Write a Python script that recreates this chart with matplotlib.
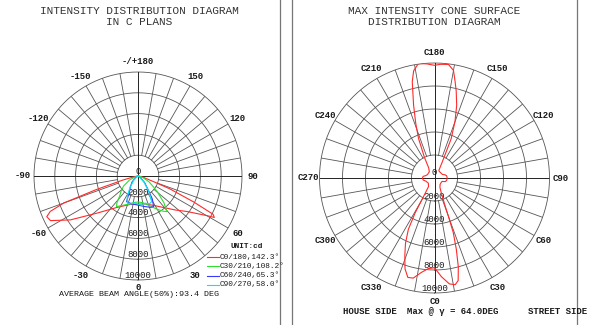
import numpy as np
import matplotlib
matplotlib.use('Agg')
import matplotlib.pyplot as plt
from matplotlib.lines import Line2D

plt.rcParams['font.family'] = ['Liberation Mono', 'DejaVu Sans Mono']

# ---- C-plane intensity curves (gamma in deg, negative = opposite half plane; cd)
c0_gamma = [-90, -80, -75, -72, -70, -68, -66, -63, -57, -48, -34, -16, 0, 16, 30, 39,
            48, 54, 60, 61.5, 63, 65, 68, 70, 75, 80, 90]
c0_cd = [0, 300, 1500, 4200, 7600, 9100, 9600, 9450, 7750, 5350, 3650, 2850, 2700, 2800,
         3300, 3900, 4900, 5800, 7600, 8350, 8100, 5900, 3300, 1600, 600, 200, 0]

c30_gamma = [-90, -75, -65, -55, -48, -43, -38, -35, -30, -20, -10, 0, 10, 20, 30, 36,
             39, 44, 50, 55, 62, 70, 80, 90]
c30_cd = [0, 200, 900, 1700, 2200, 2550, 3300, 3600, 3300, 2900, 2600, 2500, 2600, 3000,
          3700, 4200, 4400, 3600, 2500, 1800, 1200, 600, 200, 0]

c60_gamma = [-90, -60, -45, -35, -30, -24, -12, 0, 12, 22, 27, 32, 36, 45, 55, 90]
c60_cd = [0, 200, 800, 1300, 1550, 2700, 2750, 2800, 3000, 3250, 3300, 2600, 1700, 900,
          300, 0]

c90_gamma = [-90, -60, -45, -35, -28, -22, -15, -8, 0, 8, 15, 22, 28, 35, 45, 60, 90]
c90_cd = [0, 150, 600, 1300, 2200, 2750, 2800, 2600, 2700, 2850, 2700, 2900, 2800, 1800,
          800, 150, 0]

plane_labels = ['C0/180,142.3°', 'C30/210,108.2°', 'C60/240,65.3°', 'C90/270,58.0°']
plane_colors = ['#ff2a2a', '#2ee02e', '#3a3aff', '#00e8f0']

# ---- max intensity cone (gamma = 64 deg), C angle vs cd
cone_c = [0, 4, 8, 11, 13, 15, 17, 19, 20, 21, 24, 30, 40, 55, 65, 72, 80, 90, 100, 107,
          115, 140, 150, 154, 157, 160, 163, 166, 168, 170, 173, 177, 180, 184, 188, 191,
          193, 196, 199, 202, 206, 210, 220, 245, 255, 262, 270, 280, 290, 310, 325, 329,
          331, 333, 336, 339, 342, 345, 348, 352, 356, 360]
cone_cd = [7800, 8600, 9300, 9450, 9150, 8000, 6500, 5000, 3500, 2500, 1500, 950, 750,
           700, 720, 1000, 1080, 1100, 1080, 950, 750, 700, 750, 1500, 3700, 5200, 6600,
           7800, 8600, 9500, 9950, 9900, 9800, 9950, 10050, 9500, 8600, 6600, 5000, 3700,
           2000, 1000, 700, 680, 800, 1000, 1050, 1000, 800, 700, 900, 1700, 3500, 5000,
           6200, 7200, 8300, 8950, 8900, 8300, 7900, 7800]

rings = [2000, 4000, 6000, 8000, 10000]
left_ticks = [-150, -120, -90, -60, -30, 0, 30, 60, 90, 120, 150, 180]
right_ticks = [0, 30, 60, 90, 120, 150, 180, 210, 240, 270, 300, 330]

W, H = 600, 325
fig = plt.figure(figsize=(6, 3.25), dpi=100)
grid_col = '#555555'
txt_col = '#1a1a1a'


def px(x, y):
    return x / W, 1 - y / H


def polar_frame(rect):
    ax = fig.add_axes(rect, projection='polar')
    ax.set_theta_zero_location('S')
    ax.set_theta_direction(1)
    ax.set_ylim(0, 10000)
    ax.grid(False)
    ax.set_xticks([])
    ax.set_yticks([])
    ax.spines['polar'].set_visible(False)
    full = np.linspace(0, 2 * np.pi, 361)
    for r in rings:
        ax.plot(full, np.full_like(full, r), color=grid_col, lw=0.6, clip_on=False)
    for a in range(0, 360, 10):
        t = np.deg2rad(a)
        if a % 90 == 0:
            ax.plot([t, t], [0, 10000], color='#222222', lw=0.7)
        else:
            ax.plot([t, t], [2000, 10000], color=grid_col, lw=0.6)
    return ax


# left: intensity distribution in C planes
axl = polar_frame([34 / W, 1 - 280 / H, 208 / W, 208 / H])
for g, cd, col in zip([c0_gamma, c30_gamma, c60_gamma, c90_gamma],
                      [c0_cd, c30_cd, c60_cd, c90_cd], plane_colors):
    axl.plot(np.deg2rad(g), cd, color=col, lw=0.8)
for a in left_ticks:
    lab = '-/+180' if a == 180 else str(a)
    rr = 10700 if a == 0 else 11050
    axl.text(np.deg2rad(a), rr, lab, ha='center', va='center', fontsize=6.5,
             fontweight='bold', color=txt_col, clip_on=False)
for r in rings:
    axl.text(0, r - 460, str(r), ha='center', va='center', fontsize=6.5, color=txt_col,
             bbox=dict(fc='white', ec='none', pad=0), zorder=1)
axl.text(np.pi, 420, '0', ha='center', va='center', fontsize=6.5, color=txt_col)

fig.text(*px(139, 11), 'INTENSITY DISTRIBUTION DIAGRAM', ha='center', va='center',
         fontsize=8, color='#333333')
fig.text(*px(139, 22), 'IN C PLANS', ha='center', va='center', fontsize=8, color='#333333')

fig.text(*px(247, 247), 'UNIT:cd', ha='center', va='center', fontsize=5.5,
         fontweight='bold', color=txt_col)
for i, (lab, col) in enumerate(zip(plane_labels, plane_colors)):
    y = 257 + i * 9.3
    x0, y0 = px(207, y)
    x1, _ = px(219, y)
    fig.add_artist(Line2D([x0, x1], [y0, y0], color=col, lw=0.8))
    fig.text(*px(220, y), lab, ha='left', va='center', fontsize=5.6, color=txt_col)
fig.text(*px(139, 295), 'AVERAGE BEAM ANGLE(50%):93.4 DEG', ha='center', va='center',
         fontsize=6, color=txt_col)

# right: max intensity cone surface
axr = polar_frame([319.5 / W, 1 - 293 / H, 230 / W, 230 / H])
axr.plot(np.deg2rad(cone_c), cone_cd, color='#ff2a2a', lw=0.8)
for a in right_ticks:
    rr = 10750 if a == 0 else 10950
    axr.text(np.deg2rad(a), rr, f'C{a}', ha='center', va='center', fontsize=6.5,
             fontweight='bold', color=txt_col, clip_on=False)
for r in rings:
    axr.text(0, r - 400, str(r), ha='center', va='center', fontsize=6.5, color=txt_col,
             bbox=dict(fc='white', ec='none', pad=0), zorder=1)
axr.text(np.pi, 450, '0', ha='center', va='center', fontsize=6.5, color=txt_col)

fig.text(*px(434.5, 11), 'MAX INTENSITY CONE SURFACE', ha='center', va='center',
         fontsize=8, color='#333333')
fig.text(*px(434.5, 22), 'DISTRIBUTION DIAGRAM', ha='center', va='center', fontsize=8,
         color='#333333')
fig.text(*px(343, 312), 'HOUSE SIDE', ha='left', va='center', fontsize=6.5,
         fontweight='bold', color=txt_col)
fig.text(*px(407, 312), 'Max @ γ = 64.0DEG', ha='left', va='center', fontsize=6.5,
         fontweight='bold', color=txt_col)
fig.text(*px(528, 312), 'STREET SIDE', ha='left', va='center', fontsize=6.5,
         fontweight='bold', color=txt_col)

# panel dividers
for x in (280, 292, 577):
    fig.add_artist(Line2D([x / W, x / W], [0, 1], color='#777777', lw=0.9))

fig.savefig('out.png', dpi=100)
